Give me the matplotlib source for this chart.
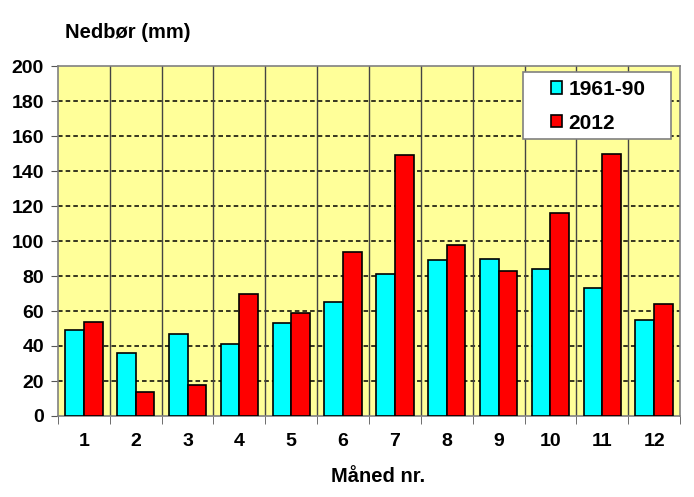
import matplotlib
matplotlib.use('Agg')
import matplotlib.pyplot as plt
from matplotlib.patches import Rectangle
import numpy as np

# monthly precipitation (mm)
months = [1, 2, 3, 4, 5, 6, 7, 8, 9, 10, 11, 12]
normal = [49, 36, 47, 41, 53, 65, 81, 89, 90, 84, 73, 55]
y2012 = [54, 14, 18, 70, 59, 94, 149, 98, 83, 116, 150, 64]
series_names = ['1961-90', '2012']

plt.rcParams['font.family'] = ['Liberation Sans', 'DejaVu Sans']
plt.rcParams['font.weight'] = 'bold'

fig = plt.figure(figsize=(6.94, 4.97), dpi=100)
ax = fig.add_axes([58 / 694, 1 - 416 / 497, (680 - 58) / 694, (416 - 66) / 497])

x = np.arange(len(months))
w = 0.36
ax.bar(x - w / 2, normal, w, color='#00FFFF', edgecolor='black', linewidth=1.2,
       label=series_names[0], zorder=3)
ax.bar(x + w / 2, y2012, w, color='#FF0000', edgecolor='black', linewidth=1.2,
       label=series_names[1], zorder=3)

ax.set_facecolor('#FFFF99')
ax.set_xlim(-0.5, len(months) - 0.5)
ax.set_ylim(0, 200)
ax.set_yticks(range(0, 201, 20))
ax.set_xticks(x)
ax.set_xticklabels([str(m) for m in months])
ax.set_xticks(np.arange(-0.5, len(months), 1), minor=True)

ax.tick_params(axis='x', which='major', length=0, pad=12, labelsize=14)
ax.tick_params(axis='x', which='minor', length=6, color='#555555', direction='out')
ax.tick_params(axis='y', length=5, color='#555555', labelsize=14, pad=5)

for v in range(20, 200, 20):
    ax.axhline(v, color='black', linestyle=(0, (3, 2)), linewidth=1.1, zorder=1)
for b in np.arange(0.5, len(months) - 1, 1):
    ax.axvline(b, color='#444444', linewidth=1, zorder=1)

for s in ax.spines.values():
    s.set_color('#808080')
    s.set_linewidth(1.2)

# legend box
ax.add_patch(Rectangle((0.7476, 0.791), 0.238, 0.191, transform=ax.transAxes,
                       facecolor='white', edgecolor='#808080', linewidth=1.2,
                       zorder=4))
leg = ax.legend(loc='upper left', bbox_to_anchor=(0.792, 0.960), fontsize=15,
                frameon=False, handlelength=0.55, handleheight=0.55,
                handletextpad=0.3, labelspacing=0.7, borderpad=0,
                borderaxespad=0)
leg.set_zorder(5)

fig.text(65 / 694, 1 - 32 / 497, 'Nedbør (mm)', fontsize=14.5, fontweight='bold',
         ha='left', va='center')
fig.text(378 / 694, 1 - 477 / 497, 'Måned nr.', fontsize=14.5, fontweight='bold',
         ha='center', va='center')

fig.savefig('out.png', dpi=100)
